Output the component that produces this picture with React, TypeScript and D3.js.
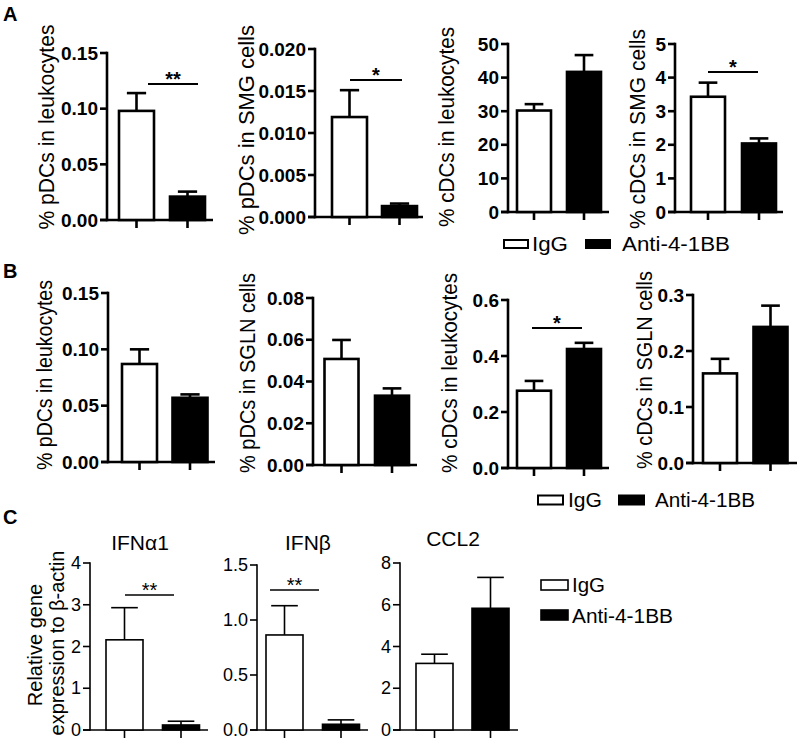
import React from "react";
import * as d3 from "d3";

const groups = ["IgG", "Anti-4-1BB"];

// Row A
const rowALabels = ["% pDCs in leukocytes", "% pDCs in SMG cells", "% cDCs in leukocytes", "% cDCs in SMG cells"];
const rowATicks = [
  ["0.00", "0.05", "0.10", "0.15"],
  ["0.000", "0.005", "0.010", "0.015", "0.020"],
  ["0", "10", "20", "30", "40", "50"],
  ["0", "1", "2", "3", "4", "5"],
];
const rowAIgG = [0.098, 0.0119, 30.2, 3.43];
const rowAIgGErr = [0.016, 0.0032, 1.9, 0.42];
const rowAAnti = [0.021, 0.0013, 41.7, 2.04];
const rowAAntiErr = [0.0045, 0.0003, 5.0, 0.15];
const rowASig = ["**", "*", "", "*"];

// Row B
const rowBLabels = ["% pDCs in leukocytes", "% pDCs in SGLN cells", "% cDCs in leukocytes", "% cDCs in SGLN cells"];
const rowBTicks = [
  ["0.00", "0.05", "0.10", "0.15"],
  ["0.00", "0.02", "0.04", "0.06", "0.08"],
  ["0.0", "0.2", "0.4", "0.6"],
  ["0.0", "0.1", "0.2", "0.3"],
];
const rowBIgG = [0.087, 0.0508, 0.276, 0.160];
const rowBIgGErr = [0.013, 0.0091, 0.035, 0.026];
const rowBAnti = [0.057, 0.0332, 0.425, 0.243];
const rowBAntiErr = [0.003, 0.0035, 0.022, 0.038];
const rowBSig = ["", "", "*", ""];

// Row C
const rowCTitles = ["IFN\u03b11", "IFN\u03b2", "CCL2"];
const rowCTicks = [
  ["0", "1", "2", "3", "4"],
  ["0.0", "0.5", "1.0", "1.5"],
  ["0", "2", "4", "6", "8"],
];
const rowCIgG = [2.16, 0.864, 3.19];
const rowCIgGErr = [0.77, 0.266, 0.44];
const rowCAnti = [0.12, 0.052, 5.83];
const rowCAntiErr = [0.09, 0.04, 1.48];
const rowCSig = ["**", "**", ""];
const rowCYLabel = ["Relative gene", "expression to \u03b2-actin"];

const FONT = "'Liberation Sans', Arial, Helvetica, sans-serif";

type Layout = {
  x0: number; xEnd: number; yTop: number; yBot: number;
  c1: number; c2: number; bw: number;
  labelX?: number; labelY?: number; labelLen?: number;
  sig?: [number, number, number];
  titleX?: number; titleY?: number;
};

const layoutA: Layout[] = [
  { x0: 107, xEnd: 213, yTop: 53, yBot: 220, c1: 136.5, c2: 187.5, bw: 35, labelX: 47, labelY: 127, labelLen: 205, sig: [148, 198, 84] },
  { x0: 315, xEnd: 423, yTop: 49, yBot: 217, c1: 349.5, c2: 399.5, bw: 35, labelX: 247, labelY: 130, labelLen: 210, sig: [350, 402, 80] },
  { x0: 508, xEnd: 609, yTop: 44, yBot: 212, c1: 534, c2: 584, bw: 34, labelX: 447, labelY: 127, labelLen: 200, sig: undefined },
  { x0: 675, xEnd: 783, yTop: 44, yBot: 212, c1: 708, c2: 759, bw: 34, labelX: 638, labelY: 129, labelLen: 200, sig: [708, 758, 72] },
];
const layoutB: Layout[] = [
  { x0: 108, xEnd: 215, yTop: 293, yBot: 462, c1: 139.5, c2: 190, bw: 35, labelX: 45, labelY: 375, labelLen: 190 },
  { x0: 313, xEnd: 417, yTop: 298, yBot: 465, c1: 341.5, c2: 392, bw: 34, labelX: 248, labelY: 373, labelLen: 200 },
  { x0: 508, xEnd: 609, yTop: 300, yBot: 468, c1: 534, c2: 584, bw: 34, labelX: 450, labelY: 373, labelLen: 200, sig: [532, 582, 328] },
  { x0: 693, xEnd: 797, yTop: 295, yBot: 463, c1: 720, c2: 770.5, bw: 34, labelX: 645, labelY: 370, labelLen: 198 },
];
const layoutC: Layout[] = [
  { x0: 90, xEnd: 208, yTop: 563, yBot: 730, c1: 124.5, c2: 181, bw: 37, sig: [125, 174, 595], titleX: 140, titleY: 550 },
  { x0: 257, xEnd: 368, yTop: 565, yBot: 730, c1: 284.5, c2: 341, bw: 37, sig: [270, 319, 590], titleX: 308, titleY: 550 },
  { x0: 400, xEnd: 518, yTop: 563, yBot: 730, c1: 434.5, c2: 490.5, bw: 37, titleX: 453, titleY: 546 },
];

type PanelProps = {
  lay: Layout; ticks: string[]; vals: number[]; errs: number[];
  label?: string; sig: string; bold: boolean; title?: string;
};

function Panel({ lay, ticks, vals, errs, label, sig, bold, title }: PanelProps) {
  const tickVals = ticks.map((t) => +t);
  const y = d3.scaleLinear().domain([0, tickVals[tickVals.length - 1]]).range([lay.yBot, lay.yTop]);
  const x = d3.scalePoint<string>().domain(groups).range([lay.c1, lay.c2]);
  const sw = bold ? 2.6 : 1.6;
  const tickFont = bold ? 19 : 18;
  const capW = bold ? lay.bw * 0.55 : lay.bw * 0.72;
  return (
    <g>
      <line x1={lay.x0} x2={lay.x0} y1={y(0) + sw / 2} y2={lay.yTop - sw / 2} stroke="#000" strokeWidth={sw} />
      {ticks.map((t, i) => (
        <g key={t}>
          <line x1={lay.x0 - 7} x2={lay.x0} y1={y(tickVals[i])} y2={y(tickVals[i])} stroke="#000" strokeWidth={sw} />
          <text
            x={lay.x0 - 9}
            y={y(tickVals[i])}
            textAnchor="end"
            dominantBaseline="central"
            fontFamily={FONT}
            fontWeight={bold ? "bold" : "normal"}
            fontSize={tickFont}
          >
            {t}
          </text>
        </g>
      ))}
      <line x1={lay.x0 - 7} x2={lay.xEnd} y1={y(0)} y2={y(0)} stroke="#000" strokeWidth={sw} />
      {groups.map((g) => (
        <line key={"xt" + g} x1={x(g)!} x2={x(g)!} y1={y(0)} y2={y(0) + 8} stroke="#000" strokeWidth={sw} />
      ))}
      {groups.map((g, i) => {
        const cx = x(g)!;
        const top = y(vals[i]);
        const et = y(vals[i] + errs[i]);
        return (
          <g key={"b" + g}>
            <line x1={cx} x2={cx} y1={top} y2={et} stroke="#000" strokeWidth={sw} />
            <line x1={cx - capW / 2} x2={cx + capW / 2} y1={et} y2={et} stroke="#000" strokeWidth={sw} />
            <rect
              x={cx - lay.bw / 2}
              y={top}
              width={lay.bw}
              height={y(0) - top}
              fill={i === 0 ? "#fff" : "#000"}
              stroke="#000"
              strokeWidth={sw}
            />
          </g>
        );
      })}
      {sig && lay.sig && (
        <g>
          <line x1={lay.sig[0]} x2={lay.sig[1]} y1={lay.sig[2]} y2={lay.sig[2]} stroke="#000" strokeWidth={bold ? 2.2 : 1.6} />
          <text
            x={(lay.sig[0] + lay.sig[1]) / 2}
            y={lay.sig[2] + 2}
            textAnchor="middle"
            fontFamily={FONT}
            fontWeight={bold ? "bold" : "normal"}
            fontSize={20}
          >
            {sig}
          </text>
        </g>
      )}
      {label && lay.labelX !== undefined && (
        <text
          transform={`translate(${lay.labelX},${lay.labelY}) rotate(-90)`}
          textAnchor="middle"
          dominantBaseline="central"
          fontFamily={FONT}
          fontSize={21.5}
          textLength={lay.labelLen}
          lengthAdjust="spacingAndGlyphs"
        >
          {label}
        </text>
      )}
      {title && (
        <text x={lay.titleX} y={lay.titleY} textAnchor="middle" fontFamily={FONT} fontSize={21}>
          {title}
        </text>
      )}
    </g>
  );
}

function LegendRow({ x1, y, boxW, boxH, x2, tx1, tx2, len1, len2, fs }: any) {
  return (
    <g fontFamily={FONT} fontSize={fs}>
      <rect x={x1} y={y - boxH / 2} width={boxW} height={boxH} fill="#fff" stroke="#000" strokeWidth={2} />
      <text x={tx1} y={y} dominantBaseline="central" textLength={len1} lengthAdjust="spacingAndGlyphs">{groups[0]}</text>
      <rect x={x2} y={y - boxH / 2} width={boxW} height={boxH} fill="#000" stroke="#000" strokeWidth={2} />
      <text x={tx2} y={y} dominantBaseline="central" textLength={len2} lengthAdjust="spacingAndGlyphs">{groups[1]}</text>
    </g>
  );
}

export default function App() {
  return (
    <svg
      width={800}
      height={745}
      viewBox="0 0 800 745"
      style={{ position: "absolute", left: 0, top: 0, background: "#fff" }}
    >
      <rect x={0} y={0} width={800} height={745} fill="#fff" />
      <text x={3} y={21} fontFamily={FONT} fontWeight="bold" fontSize={20}>A</text>
      <text x={3} y={278} fontFamily={FONT} fontWeight="bold" fontSize={20}>B</text>
      <text x={3} y={524} fontFamily={FONT} fontWeight="bold" fontSize={20}>C</text>

      {layoutA.map((lay, i) => (
        <Panel
          key={"A" + i}
          lay={lay}
          ticks={rowATicks[i]}
          vals={[rowAIgG[i], rowAAnti[i]]}
          errs={[rowAIgGErr[i], rowAAntiErr[i]]}
          label={rowALabels[i]}
          sig={rowASig[i]}
          bold={true}
        />
      ))}
      {layoutB.map((lay, i) => (
        <Panel
          key={"B" + i}
          lay={lay}
          ticks={rowBTicks[i]}
          vals={[rowBIgG[i], rowBAnti[i]]}
          errs={[rowBIgGErr[i], rowBAntiErr[i]]}
          label={rowBLabels[i]}
          sig={rowBSig[i]}
          bold={true}
        />
      ))}
      {layoutC.map((lay, i) => (
        <Panel
          key={"C" + i}
          lay={lay}
          ticks={rowCTicks[i]}
          vals={[rowCIgG[i], rowCAnti[i]]}
          errs={[rowCIgGErr[i], rowCAntiErr[i]]}
          sig={rowCSig[i]}
          bold={false}
          title={rowCTitles[i]}
        />
      ))}

      <text transform="translate(35,645) rotate(-90)" textAnchor="middle" dominantBaseline="central" fontFamily={FONT} fontSize={20}>
        {rowCYLabel[0]}
      </text>
      <text transform="translate(57,643) rotate(-90)" textAnchor="middle" dominantBaseline="central" fontFamily={FONT} fontSize={20}>
        {rowCYLabel[1]}
      </text>

      <LegendRow x1={504} y={244} boxW={24} boxH={8} x2={586} tx1={532} tx2={622} len1={36} len2={108} fs={20} />
      <LegendRow x1={538} y={500} boxW={25} boxH={9} x2={619} tx1={568} tx2={655} len1={34} len2={100} fs={20} />
      <g fontFamily={FONT} fontSize={20}>
        <rect x={541} y={580} width={27} height={10} fill="#fff" stroke="#000" strokeWidth={1.6} />
        <text x={572} y={585} dominantBaseline="central" textLength={33} lengthAdjust="spacingAndGlyphs">{groups[0]}</text>
        <rect x={541} y={610} width={27} height={10} fill="#000" stroke="#000" strokeWidth={1.6} />
        <text x={572} y={616} dominantBaseline="central" textLength={101} lengthAdjust="spacingAndGlyphs">{groups[1]}</text>
      </g>
    </svg>
  );
}
